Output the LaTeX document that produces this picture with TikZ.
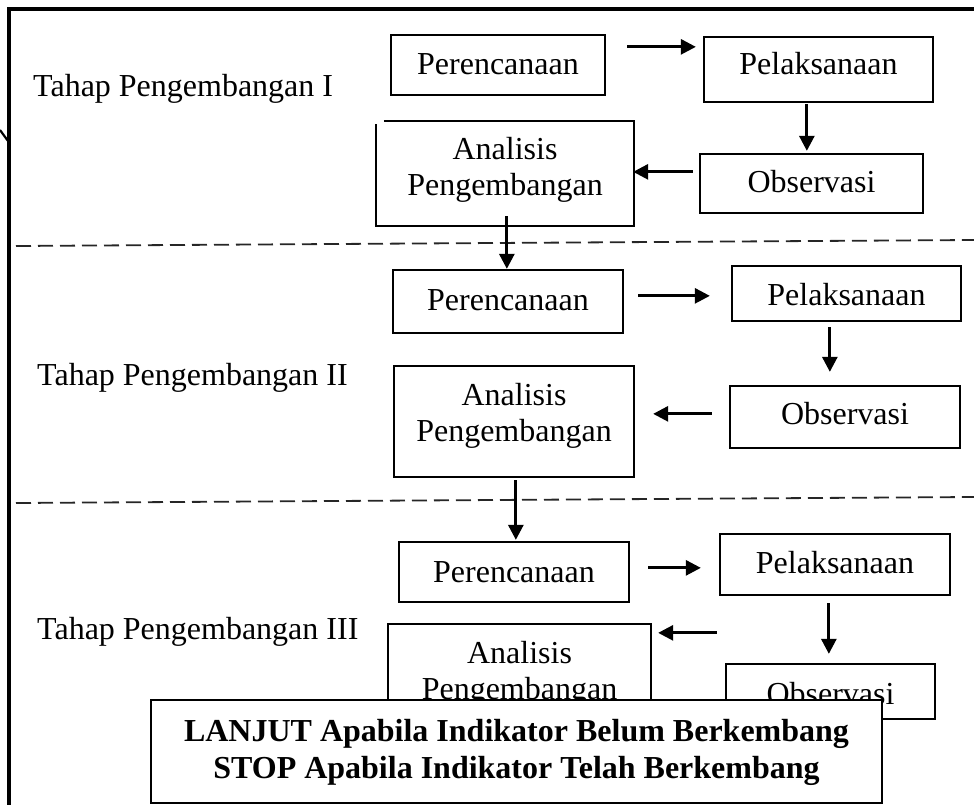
\documentclass[tikz,border=0pt]{standalone}
\usepackage{fontspec}
\setmainfont{Liberation Serif}
\usetikzlibrary{arrows.meta,calc}
\begin{document}
\begin{tikzpicture}[x=1pt,y=-1pt,
  box/.style={draw,line width=2.3pt,inner sep=0pt,font=\fontsize{32}{36}\selectfont,text depth=0pt},
  boxnodraw/.style={box,draw=none},
  edge/.style={line width=2.3pt},
  arr/.style={line width=2.8pt,-{Triangle[length=15pt,width=15pt]}},
  sep/.style={line width=1.8pt,draw=black!85,dash pattern=on 15pt off 7pt},
  frame/.style={line width=3.2pt},
  lbl/.style={anchor=base west,inner sep=0pt,font=\fontsize{32}{36}\selectfont},
  note/.style={draw,fill=white,line width=2.3pt,inner sep=0pt,font=\fontsize{32}{37}\selectfont\bfseries}]
\useasboundingbox (0,0) rectangle (974,805);
% frame
\draw[frame] (974,9) -- (9,9) -- (9,805);
\draw[line width=2.2pt] (0,130) -- (8,141);
% separators
\coordinate (s1a) at (16,246); \coordinate (s1b) at (974,240);
\coordinate (s2a) at (16,503); \coordinate (s2b) at (974,497);
\draw[sep] (s1a) -- (s1b);
\draw[sep] (s2a) -- (s2b);
% labels
\node[lbl] (t1) at (33,97) {Tahap Pengembangan I};
\node[lbl] (t2) at (37,385) {Tahap Pengembangan II};
\node[lbl] (t3) at (37,639) {Tahap Pengembangan III};
% tier 1
\node[box,minimum width=214pt,minimum height=60pt,text height=20pt] (p1) at (498,65) {Perencanaan};
\node[box,minimum width=229pt,minimum height=65pt,text height=11pt] (l1) at (818.5,69.5) {Pelaksanaan};
\node[boxnodraw,minimum width=256pt,minimum height=103pt,text height=0pt,text depth=27pt] (a1) at (505,173.5) {\begin{tabular}[t]{@{}c@{}}Analisis\\Pengembangan\end{tabular}};
\draw[edge] ([xshift=8pt]a1.north west) -- (a1.north east) -- (a1.south east) -- (a1.south west) -- ([yshift=-3pt]a1.north west);
\node[box,minimum width=223pt,minimum height=59pt,text height=19pt] (o1) at (811.5,183.5) {Observasi};
% tier 2
\node[box,minimum width=230pt,minimum height=63pt,text height=17pt] (p2) at (508,301.5) {Perencanaan};
\node[box,minimum width=229pt,minimum height=55pt,text height=23pt] (l2) at (846.5,293.5) {Pelaksanaan};
\node[box,minimum width=240pt,minimum height=111pt,text height=0pt,text depth=33pt] (a2) at (514,421.5) {\begin{tabular}[t]{@{}c@{}}Analisis\\Pengembangan\end{tabular}};
\node[box,minimum width=230pt,minimum height=62pt,text height=14pt] (o2) at (845,417) {Observasi};
% tier 3
\node[box,minimum width=230pt,minimum height=60pt,text height=20pt] (p3) at (514,572) {Perencanaan};
\node[box,minimum width=230pt,minimum height=61pt,text height=17pt] (l3) at (835,564.5) {Pelaksanaan};
\node[box,minimum width=263pt,minimum height=136pt,text height=0pt,text depth=58pt] (a3) at (519.5,692) {\begin{tabular}[t]{@{}c@{}}Analisis\\Pengembangan\end{tabular}};
\node[box,minimum width=209pt,minimum height=55pt,text height=25pt] (o3) at (830.5,691.5) {Observasi};
% arrows tier 1
\draw[arr] ([shift={(21,13)}]p1.north east) -- ([shift={(-7,11)}]l1.north west);
\draw[arr] ([shift={(104,1)}]l1.south west) -- ([shift={(108,-2)}]o1.north west);
\draw[arr] ([shift={(-6,19)}]o1.north west) -- ([shift={(-1,51)}]a1.north east);
\draw[arr] ([shift={(131,-10)}]a1.south west) -- ([shift={(115,0)}]p2.north west);
% arrows tier 2
\draw[arr] ([shift={(14,27)}]p2.north east) -- ([shift={(-21,31)}]l2.north west);
\draw[arr] ([shift={(99,5)}]l2.south west) -- ([shift={(101,-13)}]o2.north west);
\draw[arr] ([shift={(-17,29)}]o2.north west) -- ([shift={(18,49)}]a2.north east);
\draw[arr] ([shift={(123,2)}]a2.south west) -- ([shift={(118,-1)}]p3.north west);
% arrows tier 3
\draw[arr] ([shift={(18,27)}]p3.north east) -- ([shift={(-18,35)}]l3.north west);
\draw[arr] ([shift={(110,7)}]l3.south west) -- ([shift={(104,-9)}]o3.north west);
\draw[arr] ([shift={(-8,-30)}]o3.north west) -- ([shift={(6,10)}]a3.north east);
% note
\node[note,minimum width=731pt,minimum height=103pt,text height=0pt,text depth=21pt] (n) at (516.5,751.5) {\begin{tabular}[t]{@{}c@{}}LANJUT Apabila Indikator Belum Berkembang\\STOP Apabila Indikator Telah Berkembang\end{tabular}};
\end{tikzpicture}
\end{document}
